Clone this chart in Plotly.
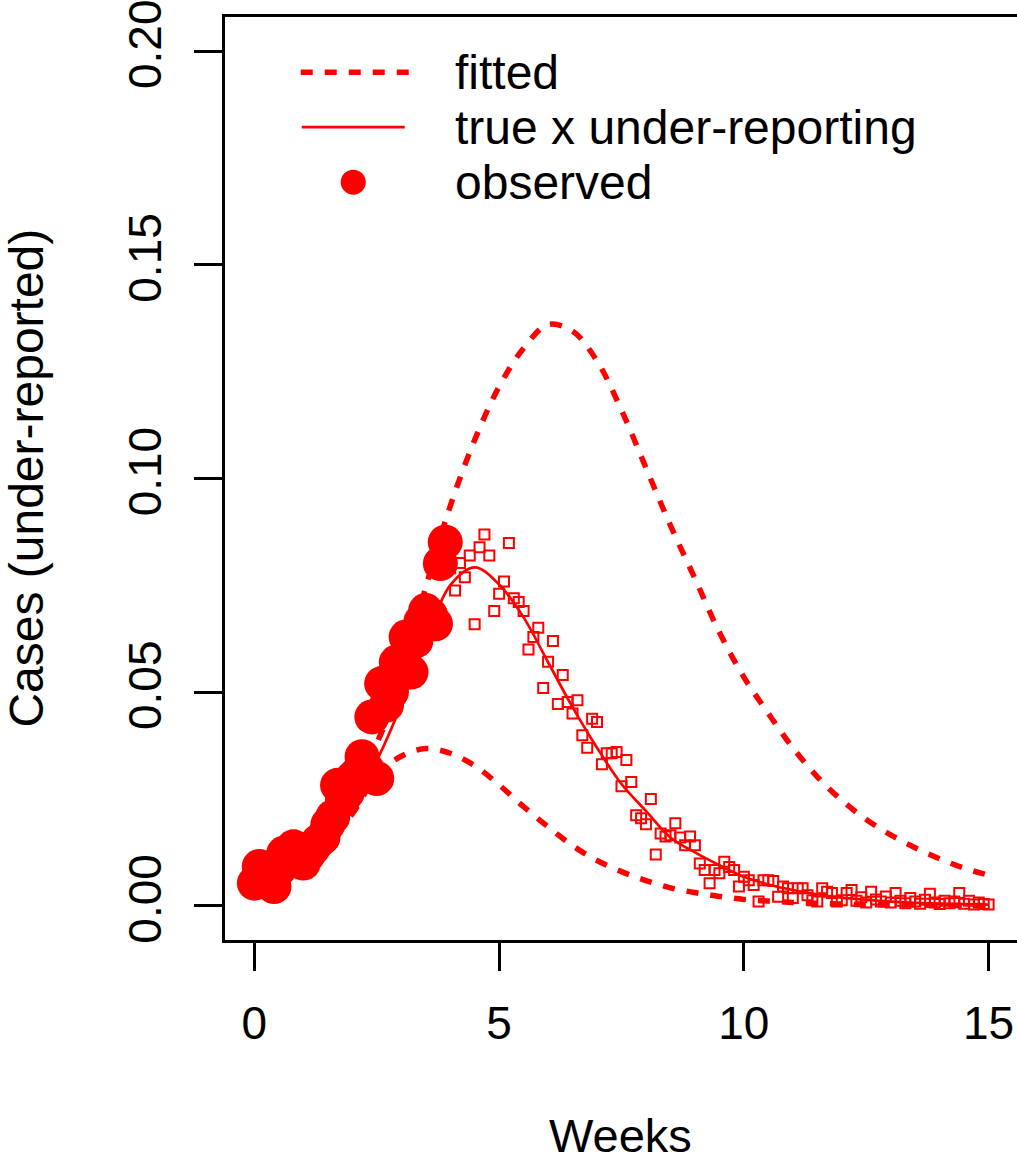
import plotly.graph_objects as go

# ---------------- data ----------------
obs_weeks = [0.0, 0.1, 0.2, 0.3, 0.4, 0.5, 0.6, 0.7, 0.8, 0.9,
             1.0, 1.1, 1.2, 1.3, 1.4, 1.5, 1.6, 1.7, 1.8, 1.9,
             2.0, 2.1, 2.2, 2.3, 2.4, 2.5, 2.6, 2.7, 2.8, 2.9,
             3.0, 3.1, 3.2, 3.3, 3.4, 3.5, 3.6, 3.7, 3.8, 3.9]
obs_cases = [0.0053, 0.0092, 0.0075, 0.0068, 0.0045, 0.0085, 0.0123, 0.0110, 0.0138, 0.0125,
             0.0100, 0.0120, 0.0135, 0.0150, 0.0160, 0.0190, 0.0208, 0.0282, 0.0247, 0.0265,
             0.0298, 0.0310, 0.0349, 0.0320, 0.0442, 0.0298, 0.0520, 0.0470, 0.0500, 0.0570,
             0.0560, 0.0629, 0.0547, 0.0620, 0.0665, 0.0691, 0.0680, 0.0660, 0.0801, 0.0851]

future_weeks = [4.0, 4.1, 4.2, 4.3, 4.4, 4.5, 4.6, 4.7, 4.8, 4.9,
                5.0, 5.1, 5.2, 5.3, 5.4, 5.5, 5.6, 5.7, 5.8, 5.9,
                6.0, 6.1, 6.2, 6.3, 6.4, 6.5, 6.6, 6.7, 6.8, 6.9,
                7.0, 7.1, 7.2, 7.3, 7.4, 7.5, 7.6, 7.7, 7.8, 7.9,
                8.0, 8.1, 8.2, 8.3, 8.4, 8.5, 8.6, 8.7, 8.8, 8.9,
                9.0, 9.1, 9.2, 9.3, 9.4, 9.5, 9.6, 9.7, 9.8, 9.9,
                10.0, 10.1, 10.2, 10.3, 10.4, 10.5, 10.6, 10.7, 10.8, 10.9,
                11.0, 11.1, 11.2, 11.3, 11.4, 11.5, 11.6, 11.7, 11.8, 11.9,
                12.0, 12.1, 12.2, 12.3, 12.4, 12.5, 12.6, 12.7, 12.8, 12.9,
                13.0, 13.1, 13.2, 13.3, 13.4, 13.5, 13.6, 13.7, 13.8, 13.9,
                14.0, 14.1, 14.2, 14.3, 14.4, 14.5, 14.6, 14.7, 14.8, 14.9,
                15.0]
future_cases = [0.0790, 0.0738, 0.0802, 0.0769, 0.0820, 0.0659, 0.0839, 0.0869, 0.0820, 0.0690,
                0.0730, 0.0759, 0.0849, 0.0720, 0.0711, 0.0690, 0.0600, 0.0629, 0.0651, 0.0510,
                0.0571, 0.0620, 0.0472, 0.0540, 0.0477, 0.0450, 0.0481, 0.0399, 0.0370, 0.0438,
                0.0430, 0.0331, 0.0357, 0.0357, 0.0360, 0.0280, 0.0341, 0.0290, 0.0212, 0.0205,
                0.0191, 0.0250, 0.0120, 0.0169, 0.0162, 0.0165, 0.0193, 0.0160, 0.0142, 0.0162,
                0.0142, 0.0099, 0.0084, 0.0053, 0.0084, 0.0076, 0.0103, 0.0091, 0.0084, 0.0045,
                0.0068, 0.0060, 0.0049, 0.0010, 0.0060, 0.0060, 0.0058, 0.0021, 0.0045, 0.0041,
                0.0018, 0.0041, 0.0041, 0.0025, 0.0013, 0.0010, 0.0041, 0.0033, 0.0030, 0.0010,
                0.0013, 0.0030, 0.0037, 0.0012, 0.0020, 0.0008, 0.0033, 0.0015, 0.0010, 0.0022,
                0.0008, 0.0030, 0.0012, 0.0006, 0.0018, 0.0010, 0.0005, 0.0014, 0.0028, 0.0008,
                0.0004, 0.0012, 0.0006, 0.0010, 0.0030, 0.0005, 0.0012, 0.0003, 0.0008, 0.0004,
                0.0003]

curve_weeks = [0.0, 0.5, 1.0, 1.5, 2.0, 2.5, 3.0, 3.5, 4.0, 4.5,
               5.0, 5.5, 6.0, 6.5, 7.0, 7.5, 8.0, 8.5, 9.0, 9.5,
               10.0, 10.5, 11.0, 11.5, 12.0, 12.5, 13.0, 13.5, 14.0, 14.5, 15.0]
true_cases = [0.0050, 0.0075, 0.0110, 0.0160, 0.0240, 0.0340, 0.0470, 0.0620, 0.0750, 0.0792,
              0.0752, 0.0675, 0.0570, 0.0465, 0.0370, 0.0285, 0.0222, 0.0160, 0.0125, 0.0095,
              0.0068, 0.0050, 0.0037, 0.0027, 0.0019, 0.0014, 0.0010, 0.0007, 0.0005, 0.0004, 0.0003]
fitted_high = [0.0060, 0.0090, 0.0130, 0.0190, 0.0270, 0.0380, 0.0530, 0.0745, 0.0935, 0.1090,
               0.1215, 0.1305, 0.1360, 0.1345, 0.1275, 0.1160, 0.1025, 0.0890, 0.0766, 0.0640,
               0.0535, 0.0450, 0.0370, 0.0302, 0.0247, 0.0202, 0.0166, 0.0136, 0.0110, 0.0088, 0.0072]
fitted_low = [0.0050, 0.0072, 0.0105, 0.0150, 0.0215, 0.0305, 0.0350, 0.0368, 0.0357, 0.0328,
              0.0283, 0.0232, 0.0185, 0.0141, 0.0106, 0.0080, 0.0059, 0.0042, 0.0031, 0.0022,
              0.0015, 0.0011, 0.0008, 0.0006, 0.0004, 0.0003, 0.0002, 0.0002, 0.0001, 0.0001, 0.0001]

x_ticks = [0, 5, 10, 15]
y_ticks = [0.0, 0.05, 0.10, 0.15, 0.20]
y_tick_labels = ["0.00", "0.05", "0.10", "0.15", "0.20"]
legend_labels = ["fitted", "true x under-reporting", "observed"]

RED = "#FF0000"
FONT = "Liberation Sans, Arial, Helvetica, sans-serif"
DASH = "12px,12px"

fig = go.Figure()
fig.add_trace(go.Scatter(x=future_weeks, y=future_cases, mode="markers",
                         marker=dict(symbol="square-open", size=10, color=RED,
                                     line=dict(width=2, color=RED)),
                         showlegend=False))
fig.add_trace(go.Scatter(x=curve_weeks, y=true_cases, mode="lines",
                         line=dict(color=RED, width=2.7, shape="spline"),
                         showlegend=False))
fig.add_trace(go.Scatter(x=curve_weeks, y=fitted_high, mode="lines",
                         line=dict(color=RED, width=5.5, dash=DASH, shape="spline"),
                         showlegend=False))
fig.add_trace(go.Scatter(x=curve_weeks, y=fitted_low, mode="lines",
                         line=dict(color=RED, width=5.5, dash=DASH, shape="spline"),
                         showlegend=False))
fig.add_trace(go.Scatter(x=obs_weeks, y=obs_cases, mode="markers",
                         marker=dict(symbol="circle", size=35, color=RED,
                                     line=dict(width=0)),
                         showlegend=False))

# ---- manual legend (R style, no box) ----
def px_x(p):
    return (p - 225.3) / 791.7

def px_y(p):
    return (940.2 - p) / 923.4

leg_y = [72, 127, 182]
shapes = [
    dict(type="line", xref="paper", yref="paper", x0=px_x(301), x1=px_x(409),
         y0=px_y(leg_y[0]), y1=px_y(leg_y[0]), line=dict(color=RED, width=5.5, dash=DASH)),
    dict(type="line", xref="paper", yref="paper", x0=px_x(302), x1=px_x(405),
         y0=px_y(leg_y[1]), y1=px_y(leg_y[1]), line=dict(color=RED, width=2.7)),
    dict(type="circle", xref="paper", yref="paper", xsizemode="pixel", ysizemode="pixel",
         xanchor=px_x(353.5), yanchor=px_y(leg_y[2]), x0=-12.5, x1=12.5, y0=-12.5, y1=12.5,
         fillcolor=RED, line=dict(width=0)),
]
annotations = []
for lab, yy in zip(legend_labels, leg_y):
    annotations.append(dict(text=lab, xref="paper", yref="paper", x=px_x(453), y=px_y(yy),
                            xanchor="left", yanchor="middle", showarrow=False,
                            font=dict(family=FONT, size=48, color="black")))
annotations.append(dict(text="Weeks", xref="paper", yref="paper", x=px_x(621), y=px_y(1136),
                        xanchor="center", yanchor="middle", showarrow=False, borderpad=0,
                        font=dict(family=FONT, size=47, color="black")))
annotations.append(dict(text="Cases (under-reported)", xref="paper", yref="paper",
                        x=px_x(26), y=px_y(478), xanchor="center", yanchor="middle",
                        textangle=-90, showarrow=False,
                        font=dict(family=FONT, size=48, color="black")))

fig.update_layout(
    width=1017, height=1163,
    margin=dict(l=225, r=0, t=17, b=223, pad=0),
    paper_bgcolor="white", plot_bgcolor="white",
    showlegend=False,
    shapes=shapes, annotations=annotations,
    font=dict(family=FONT, color="black"),
)
fig.update_xaxes(range=[-0.6, 15.58], tickmode="array", tickvals=x_ticks,
                 ticks="outside", ticklen=28, tickwidth=2.5, tickcolor="black",
                 showline=True, linewidth=2.5, linecolor="black", mirror=True,
                 showgrid=False, zeroline=False,
                 tickfont=dict(family=FONT, size=46, color="black"),
                 ticklabelstandoff=13, ticklabeloverflow="allow")
fig.update_yaxes(range=[-0.008, 0.208], tickmode="array", tickvals=y_ticks,
                 ticktext=y_tick_labels, tickangle=-90,
                 ticks="outside", ticklen=28, tickwidth=2.5, tickcolor="black",
                 showline=True, linewidth=2.5, linecolor="black", mirror=False,
                 showgrid=False, zeroline=False,
                 tickfont=dict(family=FONT, size=46, color="black"),
                 ticklabelstandoff=15, ticklabeloverflow="allow")

fig.write_html("out.html")
